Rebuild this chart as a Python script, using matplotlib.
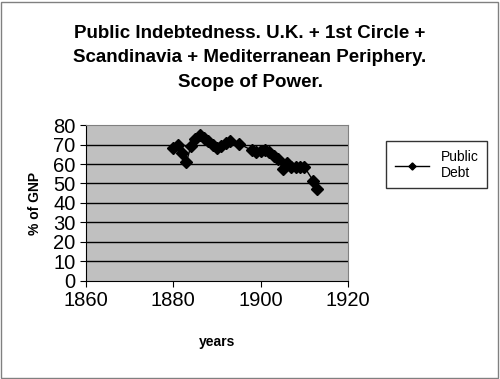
import matplotlib.pyplot as plt
import matplotlib

matplotlib.rcParams['font.family'] = 'Liberation Sans'

years = [1880, 1881, 1882, 1883, 1884, 1885, 1886, 1887, 1888, 1889, 1890, 1891,
         1892, 1893, 1895, 1898, 1899, 1900, 1901, 1902, 1903, 1904, 1905, 1906,
         1907, 1908, 1909, 1910, 1912, 1913]
debt = [68, 70, 65.5, 61, 69, 73, 75, 73.5, 72, 70, 68, 69.5,
        71, 72, 70.5, 67, 66, 66.5, 67, 66, 64, 62.5, 57.5, 60.5,
        58.5, 58.5, 58.5, 58.5, 51.5, 47]

fig = plt.figure(figsize=(5.0, 3.79), dpi=100)
ax = fig.add_axes([0.172, 0.259, 0.524, 0.411])
ax.set_facecolor('#c0c0c0')

for v in range(10, 80, 10):
    ax.axhline(v, color='black', lw=1, zorder=1)

ax.plot(years, debt, color='black', lw=1, marker='D', markersize=6,
        label='Public\nDebt', zorder=3)

ax.set_xlim(1860, 1920)
ax.set_ylim(0, 80)
ax.set_xticks([1860, 1880, 1900, 1920])
ax.set_yticks(range(0, 81, 10))
ax.tick_params(labelsize=14.5, direction='out', length=4, color='black')
for s in ['top', 'right']:
    ax.spines[s].set_color('#808080')
for s in ['left', 'bottom']:
    ax.spines[s].set_color('black')

ax.set_xlabel('years', fontsize=10, fontweight='bold', labelpad=18)
ax.set_ylabel('% of GNP', fontsize=10, fontweight='bold', labelpad=8)

fig.suptitle('Public Indebtedness. U.K. + 1st Circle +\nScandinavia + Mediterranean Periphery.\nScope of Power.',
             fontsize=13.5, fontweight='bold', x=0.5, y=0.935, linespacing=1.6)

leg = fig.legend(loc='center', bbox_to_anchor=(0.873, 0.565), fontsize=10,
                 frameon=True, fancybox=False, edgecolor='black',
                 handlelength=2.5, markerscale=0.6, borderpad=0.6)
leg.get_frame().set_linewidth(1)

fig.patches.append(matplotlib.patches.Rectangle((0.002, 0.003), 0.994, 0.993,
                                                transform=fig.transFigure,
                                                fill=False, edgecolor='#808080', lw=1))

plt.savefig('out.png', dpi=100)
